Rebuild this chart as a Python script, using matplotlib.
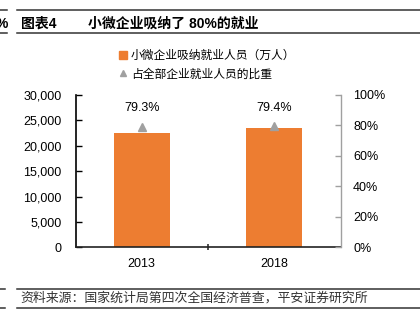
import numpy as np
import matplotlib
matplotlib.use('Agg')
from matplotlib import pyplot as plt
from matplotlib import ticker as mticker
from matplotlib.lines import Line2D

plt.rcParams['font.family'] = ['Liberation Sans', 'Noto Sans CJK SC', 'DejaVu Sans']

# Data
years      = ['2013', '2018']
employment = [22600, 23500]      # 万人
share      = [0.793, 0.794]
share_text = ['79.3%', '79.4%']

ORANGE = '#ED7D31'
GREY   = '#A0A0A0'
W, H   = 420, 327


def hline(fig, y, x0, x1, color='#333333', lw=1.1):
    fig.add_artist(Line2D([x0 / W, x1 / W], [1 - y / H, 1 - y / H],
                          transform=fig.transFigure, color=color, lw=lw))


def main():
    fig = plt.figure(figsize=(W / 100, H / 100), dpi=100)
    ax = fig.add_axes([75.5 / W, 1 - 247.3 / H, 265 / W, 152.3 / H])

    x = np.arange(len(years))
    ax.bar(x, employment, width=0.42, color=ORANGE, zorder=2)
    ax.set_xlim(-0.5, 1.5)
    ax.set_ylim(0, 30000)
    ax.yaxis.set_major_locator(mticker.MultipleLocator(5000))
    ax.yaxis.set_major_formatter(mticker.StrMethodFormatter('{x:,.0f}'))
    ax.set_xticks(x)
    ax.set_xticklabels(years)
    ax.set_xticks([0.5], minor=True)
    ax.tick_params(axis='x', which='major', length=0, pad=8, labelsize=9)
    ax.tick_params(axis='x', which='minor', length=4, direction='inout',
                   width=1.1, color='#222222')
    ax.tick_params(axis='y', direction='in', length=4, width=1.0,
                   pad=10, labelsize=9)
    ax.spines['top'].set_visible(False)
    ax.spines['right'].set_visible(False)
    ax.spines['left'].set_linewidth(1.2)
    ax.spines['bottom'].set_linewidth(1.2)
    ax.spines['bottom'].set_color('#222222')

    # Share of all enterprise employment on the right axis
    ax2 = ax.twinx()
    ax2.set_ylim(0, 1)
    ax2.yaxis.set_major_locator(mticker.MultipleLocator(0.2))
    ax2.yaxis.set_major_formatter(mticker.PercentFormatter(1.0, decimals=0))
    ax2.plot(x, share, linestyle='none', marker='^', markersize=6,
             color=GREY, zorder=3)
    for xi, s, t in zip(x, share, share_text):
        ax2.annotate(t, (xi, s), xytext=(0, 13), textcoords='offset points',
                     ha='center', va='center', fontsize=9)
    ax2.tick_params(axis='y', direction='in', length=4, width=1.0,
                    color=GREY, pad=9, labelsize=9)
    for side in ['top', 'left', 'bottom']:
        ax2.spines[side].set_visible(False)
    ax2.spines['right'].set_color(GREY)
    ax2.spines['right'].set_linewidth(1.0)

    handles = [
        Line2D([], [], linestyle='none', marker='s', markersize=6,
               color=ORANGE),
        Line2D([], [], linestyle='none', marker='^', markersize=4,
               color=GREY),
    ]
    labels = ['小微企业吸纳就业人员（万人）', '占全部企业就业人员的比重']
    fig.legend(handles, labels, loc='upper left',
               bbox_to_anchor=(118 / W, 1 - 50 / H), frameon=False,
               fontsize=8.5, handlelength=0.8, handletextpad=0.3,
               labelspacing=0.55, borderaxespad=0, borderpad=0)

    # Header
    hline(fig, 10, 17, W)
    hline(fig, 33, 17, W)
    hline(fig, 10, 0, 7)
    hline(fig, 33, 0, 7)
    fig.text(8 / W, 1 - 23.5 / H, '%', ha='right', va='center',
             fontsize=10, fontweight='bold')
    fig.text(20.5 / W, 1 - 23.5 / H, '图表4', ha='left', va='center',
             fontsize=10, fontweight='bold')
    fig.text(88 / W, 1 - 23.5 / H, '小微企业吸纳了 80%的就业', ha='left',
             va='center', fontsize=10, fontweight='bold')

    # Footer
    hline(fig, 289, 17, W)
    hline(fig, 307.5, 17, W)
    hline(fig, 289, 0, 5)
    hline(fig, 307.5, 0, 5)
    fig.text(20.5 / W, 1 - 298 / H,
             '资料来源：国家统计局第四次全国经济普查，平安证券研究所',
             ha='left', va='center', fontsize=9.3, style='italic',
             color='#333333')

    fig.savefig('out.png', dpi=100)
    plt.close(fig)


if __name__ == '__main__':
    main()
